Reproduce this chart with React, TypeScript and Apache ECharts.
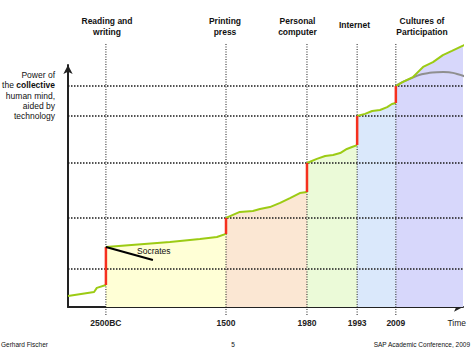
import React, { useEffect, useRef } from 'react';
import * as echarts from 'echarts';

// x: position along the time line (0..100, non-linear eras), y: "power" (0..100)
const tickValues = [9.6, 40.0, 60.5, 73.2, 83.0, 98.4];
const tickLabels = ['2500BC', '1500', '1980', '1993', '2009', 'Time'];
const eraBoundaries = [9.6, 40.0, 60.5, 73.2, 83.0];
const gridLevels = [15.7, 36.8, 59.5, 78.9, 91.3];

const preWriting = [[0, 4.5], [6.6, 6.2], [7.3, 7.9], [9.6, 9.1]];
const writingEra = [[9.6, 24.8], [25.8, 26.9], [33.4, 28.1], [37.7, 28.9], [40.0, 30.2]];
const printEra = [[40.0, 36.8], [43.5, 39.3], [46.8, 39.7], [48.6, 40.5], [51.1, 41.3], [53.7, 43.0], [56.2, 45.0], [58.7, 47.1], [60.5, 47.5]];
const pcEra = [[60.5, 59.5], [63.0, 61.2], [65.1, 62.4], [67.1, 62.8], [68.9, 63.6], [70.6, 65.3], [71.9, 66.1], [73.2, 66.9]];
const internetEra = [[73.2, 78.9], [75.2, 79.8], [77.0, 81.0], [79.0, 81.4], [80.8, 82.6], [82.0, 83.9], [83.0, 84.3]];
const participationEra = [[83.0, 91.3], [84.8, 93.0], [87.3, 95.0], [89.9, 99.2], [92.4, 101.2], [94.9, 104.1], [97.2, 105.8], [99.2, 107.4], [100, 108.0], [101.8, 109.5]];
const saturationArc = [[83.0, 91.5], [87.0, 94.6], [91.0, 96.6], [95.0, 97.1], [98.5, 96.3], [101.3, 94.6]];
const socratesLine = [[9.6, 24.8], [21.5, 19.4]];

const segments = [preWriting, writingEra, printEra, pcEra, internetEra, participationEra];
const fillColors = ['#FFFFD6', '#FBE7D3', '#EBFAD8', '#DAE8FB', '#D7D7FB'];

const FONT = 'Arial, "Liberation Sans", Helvetica, sans-serif';

export default function App() {
  const ref = useRef<HTMLDivElement>(null);
  useEffect(() => {
    document.body.style.margin = '0';
    const chart = echarts.init(ref.current!, null, { renderer: 'svg' });

    const fills = segments.slice(1).map((seg, i) => ({
      type: 'line',
      data: seg.filter((p) => p[0] <= 100),
      symbol: 'none',
      silent: true,
      clip: false,
      lineStyle: { width: 0, opacity: 0 },
      areaStyle: { color: fillColors[i], opacity: 1 },
      z: 1,
    }));
    const hLines = gridLevels.map((v) => ({
      type: 'line',
      data: [[0, v], [100, v]],
      symbol: 'none',
      silent: true,
      lineStyle: { color: '#1a1a1a', width: 1.5, type: [1.5, 1.5] },
      z: 2,
    }));
    const vLines = eraBoundaries.map((v) => ({
      type: 'line',
      data: [[v, -3.3], [v, 109.1]],
      symbol: 'none',
      silent: true,
      clip: false,
      lineStyle: { color: '#1a1a1a', width: 1, type: [1, 1.5] },
      z: 2,
    }));
    const greens = segments.map((seg) => ({
      type: 'line',
      data: seg,
      symbol: 'none',
      silent: true,
      clip: false,
      lineStyle: { color: '#9CCB14', width: 2 },
      z: 4,
    }));
    const reds = segments.slice(1).map((seg, i) => {
      const prev = segments[i];
      const a = prev[prev.length - 1];
      const b = seg[0];
      return {
        type: 'line',
        data: [a, b],
        symbol: 'none',
        silent: true,
        lineStyle: { color: '#F5301E', width: 2.5 },
        z: 5,
      };
    });

    const titleStyle = { fontSize: 8.5, fontWeight: 'bold', fill: '#111', fontFamily: FONT, lineHeight: 10.5, align: 'center', verticalAlign: 'top' };
    const footStyle = { fontSize: 6.5, fill: '#111', fontFamily: FONT, verticalAlign: 'middle' };

    chart.setOption({
      animation: false,
      grid: { left: 68, right: 8, top: 65, bottom: 50 },
      xAxis: {
        type: 'value', min: 0, max: 100,
        axisLine: { show: true, lineStyle: { color: '#222', width: 2 }, symbol: ['none', 'arrow'], symbolSize: [7, 9] },
        axisTick: { show: false },
        splitLine: { show: false },
        axisLabel: {
          customValues: tickValues,
          margin: 11,
          fontSize: 8.5,
          fontWeight: 'bold',
          color: '#222',
          fontFamily: FONT,
          formatter: (val: number) => {
            let best = 0;
            tickValues.forEach((t, i) => { if (Math.abs(t - val) < Math.abs(tickValues[best] - val)) best = i; });
            return best === tickValues.length - 1 ? '{t|' + tickLabels[best] + '}' : tickLabels[best];
          },
          rich: { t: { fontSize: 8.5, fontWeight: 'normal', color: '#222', fontFamily: FONT } },
        },
      },
      yAxis: {
        type: 'value', min: 0, max: 100,
        axisLine: { show: true, lineStyle: { color: '#222', width: 2 }, symbol: ['none', 'arrow'], symbolSize: [7, 9] },
        axisTick: { show: false },
        axisLabel: { show: false },
        splitLine: { show: false },
      },
      series: [
        ...fills,
        ...hLines,
        ...vLines,
        {
          type: 'line', data: saturationArc, smooth: 0.6, symbol: 'none', silent: true, clip: false,
          lineStyle: { color: '#8f8f8f', width: 2 }, z: 3,
        },
        ...greens,
        ...reds,
        {
          type: 'line', data: socratesLine, symbol: 'none', silent: true,
          lineStyle: { color: '#000', width: 2 }, z: 6,
        },
      ],
      graphic: [
        { type: 'text', z: 100, x: 107, y: 16, style: { ...titleStyle, text: 'Reading and\nwriting' } },
        { type: 'text', z: 100, x: 225, y: 16, style: { ...titleStyle, text: 'Printing\npress' } },
        { type: 'text', z: 100, x: 297.5, y: 16, style: { ...titleStyle, text: 'Personal\ncomputer' } },
        { type: 'text', z: 100, x: 354.5, y: 20, style: { ...titleStyle, text: 'Internet' } },
        { type: 'text', z: 100, x: 422, y: 16, style: { ...titleStyle, text: 'Cultures of\nParticipation' } },
        {
          type: 'text', z: 100, x: 55, y: 70,
          style: {
            text: 'Power of\nthe {b|collective}\nhuman mind,\naided by\ntechnology',
            fontSize: 8.5, fill: '#111', fontFamily: FONT, lineHeight: 10.3,
            align: 'right', verticalAlign: 'top',
            rich: { b: { fontSize: 8.5, fontWeight: 'bold', fill: '#111', fontFamily: FONT, lineHeight: 10.3 } },
          },
        },
        { type: 'text', z: 100, x: 137, y: 251, style: { text: 'Socrates', fontSize: 8.5, fill: '#111', fontFamily: FONT, verticalAlign: 'middle' } },
        { type: 'text', z: 100, x: 1, y: 344, style: { ...footStyle, text: 'Gerhard Fischer' } },
        { type: 'text', z: 100, x: 233, y: 344, style: { ...footStyle, text: '5', align: 'center' } },
        { type: 'text', z: 100, x: 470, y: 344, style: { ...footStyle, text: 'SAP Academic Conference, 2009', align: 'right' } },
      ],
    });
    return () => chart.dispose();
  }, []);
  return <div ref={ref} style={{ width: 471, height: 357 }} />;
}
